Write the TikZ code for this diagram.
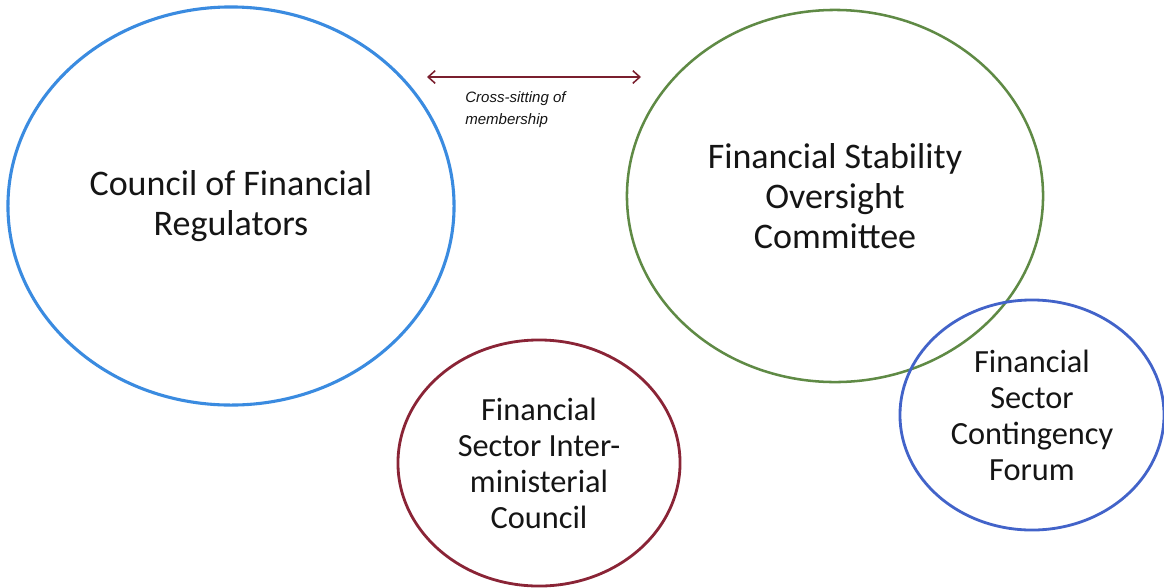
\documentclass[tikz,border=0pt]{standalone}
\usepackage{fontspec}
\setmainfont{Carlito}
\newfontfamily\notefont{Liberation Sans}
\usetikzlibrary{shapes.geometric,arrows.meta,positioning}

\definecolor{cfrblue}{HTML}{3A8BE0}
\definecolor{fsocgreen}{HTML}{5F8A45}
\definecolor{fsimcred}{HTML}{8A2436}
\definecolor{forumblue}{HTML}{4263C9}
\definecolor{linkred}{HTML}{7A1F2E}
\definecolor{inktext}{HTML}{151515}

\tikzset{
  body/.style={ellipse,draw,inner sep=0pt,align=center,text=inktext},
  bigbody/.style={body,line width=2.2pt,font=\fontsize{25.6}{28.4}\selectfont},
  smallbody/.style={body,line width=2pt,font=\fontsize{23}{25.6}\selectfont},
}

\begin{document}
\begin{tikzpicture}[x=0.025cm,y=-0.025cm]
    \useasboundingbox (0,0) rectangle (1164,587);
    % the four bodies
    \node [bigbody,draw=cfrblue,minimum width=11.15cm,minimum height=9.95cm] (cfr) at (231,206) {Council of Financial\\Regulators};
    \node [bigbody,draw=fsocgreen,line width=1.8pt,minimum width=10.4cm,minimum height=9.3cm] (fsoc) at (835,196) {Financial Stability\\Oversight\\Committee};
    \node [smallbody,draw=fsimcred,minimum width=7.05cm,minimum height=6.15cm] (fsimc) at (539,463) {Financial\\Sector Inter-\\ministerial\\Council};
    \node [smallbody,draw=forumblue,minimum width=6.6cm,minimum height=5.75cm] (forum) at (1032,415) {Financial\\Sector\\Contingency\\Forum};
    % cross-sitting link
    \coordinate (linkL) at (427,77);
    \coordinate (linkR) at (641,77);
    \draw [linkred,line width=1.1pt,{Straight Barb[length=5pt,width=9pt]}-{Straight Barb[length=5pt,width=9pt]}] (linkL) -- (linkR);
    \node [anchor=north west,inner sep=0pt,align=left,font=\notefont\itshape\fontsize{10.7}{15.6}\selectfont,text=inktext] (link) at (465,91) {Cross-sitting of\\membership};
\end{tikzpicture}
\end{document}
